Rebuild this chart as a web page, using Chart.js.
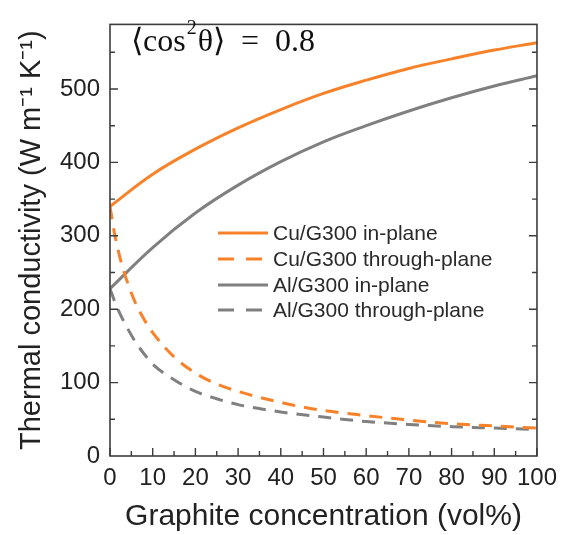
<!DOCTYPE html>
<html>
<head>
<meta charset="utf-8">
<script src="https://cdn.jsdelivr.net/npm/chart.js@4/dist/chart.umd.min.js"></script>
<style>
  html, body { margin: 0; padding: 0; background: #fff; }
  #wrap { width: 565px; height: 535px; position: relative; }
</style>
</head>
<body>
<div id="wrap"><canvas id="c" width="565" height="535"></canvas></div>
<script>
// Graphite volume fraction (vol%) for the in-plane curves
const inPlaneConcentration = [0, 10, 20, 30, 40, 50, 60, 70, 80, 90, 100];
// Graphite volume fraction (vol%) for the through-plane curves (finer near 0)
const throughConcentration = [0, 1, 2, 3, 4, 6, 8, 10, 15, 20, 25, 30, 40, 50, 60, 70, 80, 90, 100];
// Thermal conductivity (W m^-1 K^-1)
const cuInPlane      = [340, 384, 418, 447, 472, 494, 512, 528, 541, 553, 563];
const alInPlane      = [228, 284, 331, 369, 401, 428, 450, 470, 488, 504, 518];
const cuThroughPlane = [340, 305, 278, 256, 238, 208, 186, 168, 135, 113, 98, 88, 73, 62, 55, 49, 44, 41, 38];
const alThroughPlane = [228, 212, 198, 186, 175, 155, 139, 125, 104, 88, 78, 70, 60, 53, 47, 43, 40, 38, 36];

const seriesNames = ['Cu/G300 in-plane', 'Cu/G300 through-plane', 'Al/G300 in-plane', 'Al/G300 through-plane'];
const yTicks = [0, 100, 200, 300, 400, 500];
const xTicks = [0, 10, 20, 30, 40, 50, 60, 70, 80, 90, 100];

const ORANGE = 'rgb(247,130,42)';
const GRAY = 'rgb(128,128,128)';
const DASH = [13, 9];
const AXIS = '#3c3c3c';
const SANS = '"Liberation Sans", Arial, sans-serif';

const toPoints = (xs, ys) => xs.map((x, i) => ({ x, y: ys[i] }));

function series(label, xs, ys, color, dashed) {
  const ds = {
    label,
    data: toPoints(xs, ys),
    borderColor: color,
    backgroundColor: color,
    borderWidth: 3,
    borderDash: dashed ? DASH : [],
    pointRadius: 0,
    fill: false
  };
  // smooth Bezier for the gently rising curves, monotone for the steep decays
  if (dashed) ds.cubicInterpolationMode = 'monotone';
  else ds.tension = 0.4;
  return ds;
}

// Frame, inward ticks, legend and orientation annotation
const decorations = {
  id: 'decorations',
  afterDraw(chart) {
    const { ctx, chartArea: a, scales } = chart;
    const xs = scales.x, ys = scales.y;
    ctx.save();
    ctx.strokeStyle = AXIS;
    ctx.lineWidth = 1.6;
    ctx.setLineDash([]);
    ctx.strokeRect(a.left, a.top, a.right - a.left, a.bottom - a.top);

    ctx.lineWidth = 1.4;
    ctx.beginPath();
    for (let v = 0; v <= 100; v += 5) {
      const px = xs.getPixelForValue(v);
      const len = v % 10 === 0 ? 8 : 5;
      ctx.moveTo(px, a.bottom);
      ctx.lineTo(px, a.bottom - len);
    }
    for (let v = 50; v <= 550; v += 50) {
      const py = ys.getPixelForValue(v);
      const len = v % 100 === 0 ? 8 : 5;
      ctx.moveTo(a.left, py);
      ctx.lineTo(a.left + len, py);
      ctx.moveTo(a.right, py);
      ctx.lineTo(a.right - len, py);
    }
    ctx.stroke();

    // legend
    const lx0 = 218, lx1 = 268, tx = 273;
    const rows = [233, 259, 285, 310];
    ctx.font = '21px ' + SANS;
    ctx.textBaseline = 'middle';
    ctx.textAlign = 'left';
    chart.data.datasets.forEach((ds, i) => {
      const y = rows[i];
      ctx.strokeStyle = ds.borderColor;
      ctx.lineWidth = 3;
      ctx.setLineDash(ds.borderDash.length ? [16, 12] : []);
      ctx.beginPath();
      ctx.moveTo(lx0, y);
      ctx.lineTo(lx1, y);
      ctx.stroke();
      ctx.setLineDash([]);
      ctx.fillStyle = '#2a2a2a';
      ctx.fillText(ds.label, tx, y + 1);
    });

    // <cos^2 theta> = 0.8
    const serif = '"Liberation Serif", "Times New Roman", serif';
    ctx.fillStyle = '#111';
    ctx.textBaseline = 'alphabetic';
    let x = 131, base = 51;
    ctx.font = '32px ' + serif;
    ctx.fillText('\u27E8cos', x, base);
    x += ctx.measureText('\u27E8cos').width + 1;
    ctx.font = '20px ' + serif;
    ctx.fillText('2', x, base - 17);
    x += ctx.measureText('2').width + 1;
    ctx.font = '32px ' + serif;
    ctx.fillText('\u03B8\u27E9  =  0.8', x, base);
    ctx.restore();
  }
};

new Chart(document.getElementById('c'), {
  type: 'line',
  data: {
    datasets: [
      series(seriesNames[0], inPlaneConcentration, cuInPlane, ORANGE, false),
      series(seriesNames[1], throughConcentration, cuThroughPlane, ORANGE, true),
      series(seriesNames[2], inPlaneConcentration, alInPlane, GRAY, false),
      series(seriesNames[3], throughConcentration, alThroughPlane, GRAY, true)
    ]
  },
  options: {
    responsive: false,
    animation: false,
    layout: { padding: { top: 10, right: 28, left: 0, bottom: 0 } },
    plugins: { legend: { display: false }, tooltip: { enabled: false } },
    scales: {
      x: {
        type: 'linear',
        min: 0,
        max: 100,
        afterBuildTicks: s => { s.ticks = xTicks.map(v => ({ value: v })); },
        afterFit: s => { s.height = 79; },
        grid: { display: false, drawTicks: false },
        border: { display: false },
        ticks: { color: '#222', font: { family: SANS, size: 24 }, padding: 8, maxRotation: 0, autoSkip: false },
        title: {
          display: true,
          text: 'Graphite concentration (vol%)',
          color: '#222',
          font: { family: SANS, size: 30 },
          padding: { top: 0, bottom: 0 }
        }
      },
      y: {
        type: 'linear',
        min: 0,
        max: 588,
        afterBuildTicks: s => { s.ticks = yTicks.map(v => ({ value: v })); },
        afterFit: s => { s.width = 110; },
        grid: { display: false, drawTicks: false },
        border: { display: false },
        ticks: { color: '#222', font: { family: SANS, size: 24 }, padding: 10, autoSkip: false },
        title: {
          display: true,
          text: 'Thermal conductivity (W m\u207B\u00B9 K\u207B\u00B9)',
          color: '#222',
          font: { family: SANS, size: 29 },
          padding: { top: 15, bottom: 0 }
        }
      }
    }
  },
  plugins: [decorations]
});
</script>
</body>
</html>
